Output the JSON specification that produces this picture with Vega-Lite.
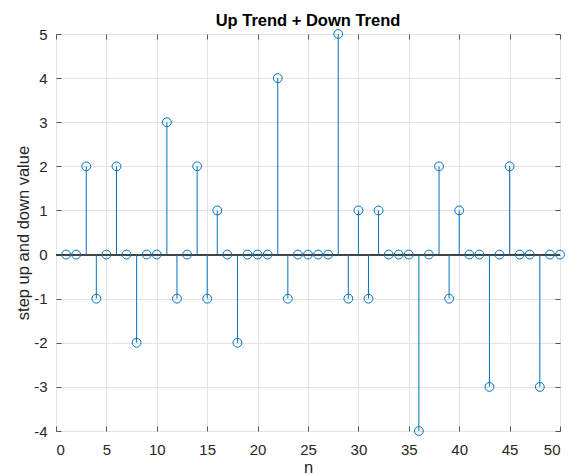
{
  "$schema": "https://vega.github.io/schema/vega-lite/v6.json",
  "width": 504,
  "height": 397,
  "autosize": "none",
  "padding": {"left": 56, "top": 34, "right": 11, "bottom": 44},
  "background": "white",
  "title": {"text": "Up Trend + Down Trend", "fontSize": 16.5, "fontWeight": "bold", "font": "Liberation Sans", "color": "#000000", "offset": -2},
  "config": {
    "view": {"stroke": "#808080", "strokeWidth": 1},
    "axis": {"labelFont": "Liberation Sans", "titleFont": "Liberation Sans", "labelFontSize": 15, "titleFontSize": 16.5, "labelColor": "#262626", "titleColor": "#262626", "titleFontWeight": "normal", "domain": false, "tickColor": "#555555", "gridColor": "#e3e3e3", "gridOpacity": 1}
  },
  "data": {"values": [
    {"n": 1, "v": 0}, {"n": 2, "v": 0}, {"n": 3, "v": 2}, {"n": 4, "v": -1}, {"n": 5, "v": 0},
    {"n": 6, "v": 2}, {"n": 7, "v": 0}, {"n": 8, "v": -2}, {"n": 9, "v": 0}, {"n": 10, "v": 0},
    {"n": 11, "v": 3}, {"n": 12, "v": -1}, {"n": 13, "v": 0}, {"n": 14, "v": 2}, {"n": 15, "v": -1},
    {"n": 16, "v": 1}, {"n": 17, "v": 0}, {"n": 18, "v": -2}, {"n": 19, "v": 0}, {"n": 20, "v": 0},
    {"n": 21, "v": 0}, {"n": 22, "v": 4}, {"n": 23, "v": -1}, {"n": 24, "v": 0}, {"n": 25, "v": 0},
    {"n": 26, "v": 0}, {"n": 27, "v": 0}, {"n": 28, "v": 5}, {"n": 29, "v": -1}, {"n": 30, "v": 1},
    {"n": 31, "v": -1}, {"n": 32, "v": 1}, {"n": 33, "v": 0}, {"n": 34, "v": 0}, {"n": 35, "v": 0},
    {"n": 36, "v": -4}, {"n": 37, "v": 0}, {"n": 38, "v": 2}, {"n": 39, "v": -1}, {"n": 40, "v": 1},
    {"n": 41, "v": 0}, {"n": 42, "v": 0}, {"n": 43, "v": -3}, {"n": 44, "v": 0}, {"n": 45, "v": 2},
    {"n": 46, "v": 0}, {"n": 47, "v": 0}, {"n": 48, "v": -3}, {"n": 49, "v": 0}, {"n": 50, "v": 0}
  ]},
  "layer": [
    {
      "mark": {"type": "rule", "color": "#404040", "strokeWidth": 1},
      "encoding": {"y": {"datum": 0, "type": "quantitative", "scale": {"domain": [-4, 5], "nice": false},
        "axis": {"orient": "left", "values": [-4, -3, -2, -1, 0, 1, 2, 3, 4, 5], "tickSize": -5, "labelPadding": 14, "labelExpr": "datum.value < 0 ? '-' + abs(datum.value) : '' + datum.value", "title": "step up and down value", "titlePadding": 2, "grid": true}}}
    },
    {
      "mark": {"type": "rule", "color": "#0072BD", "strokeWidth": 1},
      "encoding": {
        "x": {"field": "n", "type": "quantitative", "scale": {"domain": [0, 50], "nice": false},
          "axis": {"orient": "bottom", "values": [0, 5, 10, 15, 20, 25, 30, 35, 40, 45, 50], "tickSize": -5, "labelPadding": 16, "title": "n", "titlePadding": 2, "grid": true}},
        "y": {"field": "v", "type": "quantitative", "axis": null},
        "y2": {"datum": 0}
      }
    },
    {
      "mark": {"type": "point", "shape": "circle", "filled": false, "color": "#0072BD", "size": 78, "strokeWidth": 1, "opacity": 1},
      "encoding": {
        "x": {"field": "n", "type": "quantitative", "axis": null},
        "y": {"field": "v", "type": "quantitative", "axis": null}
      }
    },
    {
      "mark": {"type": "point", "opacity": 0},
      "encoding": {
        "x": {"field": "n", "type": "quantitative", "axis": {"orient": "top", "values": [0, 5, 10, 15, 20, 25, 30, 35, 40, 45, 50], "tickSize": -5, "labels": false, "title": null, "grid": false}},
        "y": {"field": "v", "type": "quantitative", "axis": {"orient": "right", "values": [-4, -3, -2, -1, 0, 1, 2, 3, 4, 5], "tickSize": -5, "labels": false, "title": null, "grid": false}}
      }
    }
  ],
  "resolve": {"axis": {"x": "independent", "y": "independent"}}
}
